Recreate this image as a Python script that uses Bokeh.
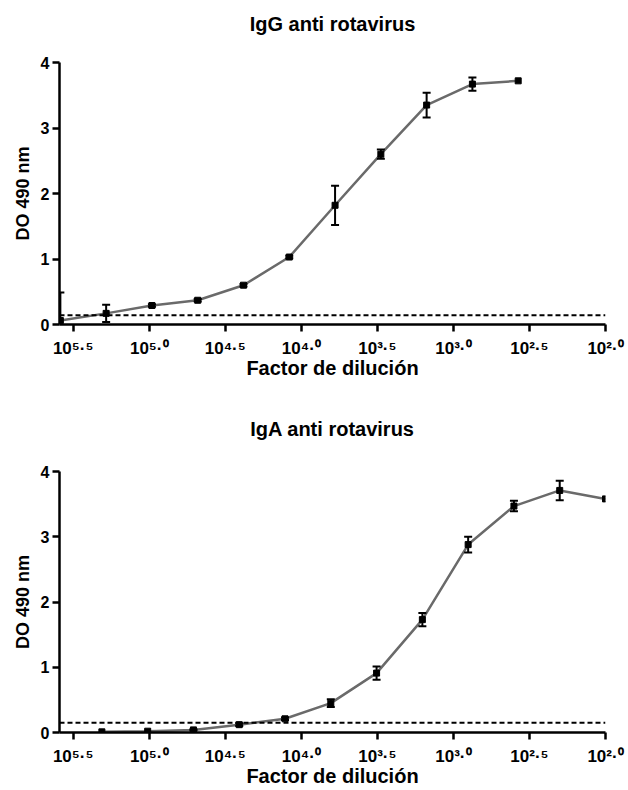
from bokeh.plotting import figure
from bokeh.models import Range1d, FixedTicker, Span, ColumnDataSource, LogAxis
from bokeh.layouts import column
from bokeh.embed import file_html
from bokeh.resources import INLINE

FONT = "Liberation Sans"

# ---- IgG anti rotavirus ----
igg_dilution = [384000, 192000, 96000, 48000, 24000, 12000, 6000, 3000, 1500, 750, 375]
igg_od = [0.06, 0.17, 0.29, 0.37, 0.60, 1.03, 1.82, 2.60, 3.35, 3.67, 3.72]
igg_err = [0.43, 0.13, 0.02, 0.02, 0.02, 0.02, 0.30, 0.07, 0.19, 0.10, 0.0]
igg_cutoff = 0.14

# ---- IgA anti rotavirus ----
iga_dilution = [204800, 102400, 51200, 25600, 12800, 6400, 3200, 1600, 800, 400, 200, 100]
iga_od = [0.01, 0.02, 0.04, 0.12, 0.21, 0.45, 0.91, 1.73, 2.88, 3.47, 3.71, 3.58]
iga_err = [0.0, 0.0, 0.01, 0.02, 0.02, 0.06, 0.10, 0.10, 0.12, 0.08, 0.15, 0.0]
iga_cutoff = 0.15

x_tick_exponents = ["5.5", "5.0", "4.5", "4.0", "3.5", "3.0", "2.5", "2.0"]
y_ticks = [0, 1, 2, 3, 4]
x_label = "Factor de dilución"
y_label = "DO 490 nm"

SUP = str.maketrans("0123456789.", "⁰¹²³⁴⁵⁶⁷⁸⁹·")


def style_axis(ax):
    ax.axis_line_width = 2.5
    ax.axis_line_color = "black"
    ax.major_tick_line_width = 2.5
    ax.major_tick_line_color = "black"
    ax.major_tick_out = 7
    ax.major_tick_in = 0
    ax.minor_tick_line_color = None
    ax.axis_label_text_font = FONT
    ax.axis_label_text_font_style = "bold"
    ax.axis_label_text_color = "black"
    ax.major_label_text_font = FONT
    ax.major_label_text_font_style = "bold"
    ax.major_label_text_color = "black"


def make_panel(title, dil, od, err, cutoff, height, b_top, b_bottom, title_gap):
    p = figure(width=628, height=height, x_axis_type="log",
               x_range=Range1d(10 ** 5.59, 10 ** 2.0), y_range=Range1d(0, 4),
               output_backend="svg", toolbar_location=None,
               min_border_left=59, min_border_right=23,
               min_border_top=b_top, min_border_bottom=b_bottom)
    p.outline_line_color = None
    p.grid.visible = False
    p.background_fill_color = "white"
    p.border_fill_color = "white"

    xa = p.below[0]
    ya = p.left[0]
    style_axis(xa)
    style_axis(ya)

    ya.ticker = FixedTicker(ticks=y_ticks)
    ya.major_label_text_font_size = "16px"
    ya.major_label_standoff = 3
    ya.axis_label = y_label
    ya.axis_label_text_font_size = "18px"
    ya.axis_label_standoff = 5

    ticks = [10 ** float(e) for e in x_tick_exponents]
    xa.ticker = FixedTicker(ticks=ticks)
    xa.major_label_overrides = {t: "10" + e.translate(SUP) for t, e in zip(ticks, x_tick_exponents)}
    xa.major_label_text_font_size = "17px"
    xa.major_label_standoff = 7
    xa.axis_label = x_label
    xa.axis_label_text_font_size = "20px"
    xa.axis_label_standoff = -4

    # title drawn as the label of an empty axis above the frame
    top_axis = LogAxis(ticker=FixedTicker(ticks=[]), axis_label=title,
                       axis_line_color=None, major_tick_line_color=None,
                       minor_tick_line_color=None, major_tick_out=0,
                       major_label_standoff=0, axis_label_standoff=title_gap,
                       axis_label_text_font=FONT, axis_label_text_font_size="20px",
                       axis_label_text_font_style="bold", axis_label_text_color="black")
    p.add_layout(top_axis, "above")

    p.add_layout(Span(location=cutoff, dimension="width", line_color="black",
                      line_width=2, line_dash="5 3"))

    src = ColumnDataSource(dict(x=dil, y=od))
    p.line("x", "y", source=src, line_color="#6a6a6a", line_width=2.5)
    p.scatter("x", "y", source=src, marker="square", size=6,
              fill_color="black", line_color="black")

    ex = [d for d, e in zip(dil, err) if e > 0]
    hi = [v + e for v, e in zip(od, err) if e > 0]
    lo = [v - e for v, e in zip(od, err) if e > 0]
    esrc = ColumnDataSource(dict(x=ex, hi=hi, lo=lo))
    p.segment("x", "lo", "x", "hi", source=esrc, line_color="black", line_width=2)
    p.scatter("x", "hi", source=esrc, marker="dash", size=8, line_color="black", line_width=2)
    p.scatter("x", "lo", source=esrc, marker="dash", size=8, line_color="black", line_width=2)
    return p


p1 = make_panel("IgG anti rotavirus", igg_dilution, igg_od, igg_err, igg_cutoff, 395, 62, 71, 28)
p2 = make_panel("IgA anti rotavirus", iga_dilution, iga_od, iga_err, iga_cutoff, 395, 76, 58, 32)

layout = column(p1, p2, spacing=0)
open("out.html", "w").write(file_html(layout, INLINE))
